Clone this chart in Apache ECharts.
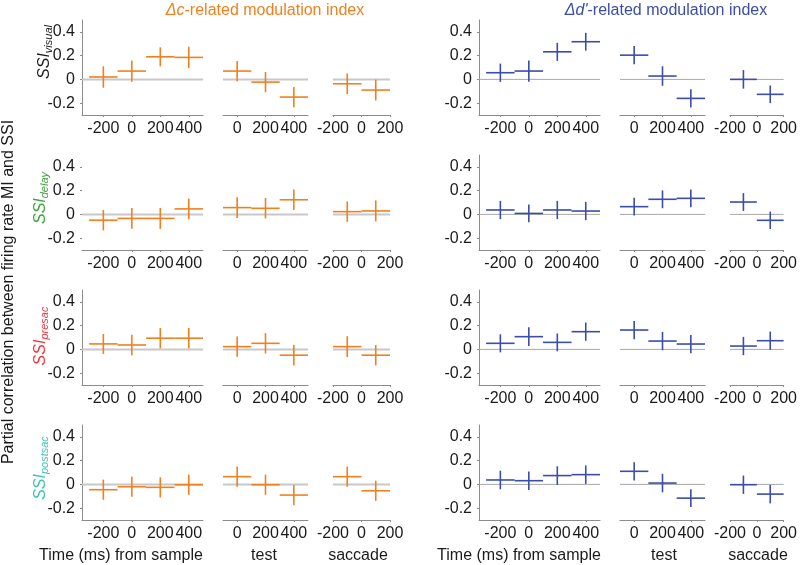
<!DOCTYPE html>
<html><head><meta charset="utf-8">
<script src="https://cdn.jsdelivr.net/npm/echarts@6/dist/echarts.min.js"></script>
<style>html,body{margin:0;padding:0;background:#fff}#c{width:800px;height:565px}</style>
</head><body><div id="c"></div>
<script>
// ---------- data ----------
const epochs = ['sample', 'test', 'saccade'];
const sampleRange = [-350, 500];
const testRange = [-100, 500];
const saccadeRange = [-200, 200];
const sampleTicks = [-200, 0, 200, 400];
const testTicks = [0, 200, 400];
const saccadeTicks = [-200, 0, 200];
const windowEpoch = ['sample', 'sample', 'sample', 'sample', 'test', 'test', 'test', 'saccade', 'saccade'];
const windowCenter = [-200, 0, 200, 400, 0, 200, 400, -100, 100];
const windowHalfWidth = 100;
const yTicks = [-0.2, 0, 0.2, 0.4];
const yRange = [-0.3, 0.5];
const rowSubscripts = ['visual', 'delay', 'presac', 'postsac'];
const columnTitlesItalic = ['\u0394c', '\u0394d\''];
const columnTitlesRest = ['-related modulation index', '-related modulation index'];
const yAxisTitle = 'Partial correlation between firing rate MI and SSI';
const xAxisTitles = ['Time (ms) from sample', 'test', 'saccade'];

// Δc-related (left column)
const dcVisual = [0.02, 0.07, 0.19, 0.185, 0.07, -0.023, -0.149, -0.037, -0.09];
const dcVisualErr = [0.09, 0.09, 0.08, 0.09, 0.085, 0.085, 0.085, 0.087, 0.088];
const dcDelay = [-0.049, -0.034, -0.034, 0.046, 0.057, 0.051, 0.123, 0.023, 0.029];
const dcDelayErr = [0.086, 0.088, 0.088, 0.087, 0.088, 0.086, 0.086, 0.086, 0.088];
const dcPresac = [0.046, 0.037, 0.094, 0.094, 0.023, 0.051, -0.049, 0.023, -0.049];
const dcPresacErr = [0.084, 0.086, 0.086, 0.086, 0.086, 0.086, 0.086, 0.088, 0.086];
const dcPostsac = [-0.045, -0.02, -0.025, -0.003, 0.065, -0.003, -0.09, 0.065, -0.054];
const dcPostsacErr = [0.085, 0.085, 0.085, 0.085, 0.085, 0.085, 0.085, 0.085, 0.085];
// Δd'-related (right column)
const ddVisual = [0.056, 0.07, 0.232, 0.317, 0.204, 0.028, -0.16, 0.0, -0.126];
const ddVisualErr = [0.077, 0.09, 0.076, 0.075, 0.077, 0.082, 0.077, 0.078, 0.074];
const ddDelay = [0.037, 0.008, 0.037, 0.028, 0.065, 0.127, 0.135, 0.104, -0.05];
const ddDelayErr = [0.077, 0.075, 0.077, 0.077, 0.075, 0.075, 0.075, 0.075, 0.073];
const ddPresac = [0.051, 0.107, 0.059, 0.149, 0.163, 0.07, 0.045, 0.028, 0.073];
const ddPresacErr = [0.076, 0.079, 0.075, 0.077, 0.077, 0.077, 0.077, 0.077, 0.077];
const ddPostsac = [0.037, 0.031, 0.074, 0.082, 0.11, 0.011, -0.116, -0.003, -0.082];
const ddPostsacErr = [0.078, 0.078, 0.078, 0.078, 0.077, 0.078, 0.075, 0.077, 0.078];

// ---------- layout / style ----------
const FONT = '"Liberation Sans", Arial, Helvetica, sans-serif';
const TXT = '#1a1a1a';
const colColors = ['#F0801E', '#3A4DA8'];
const zeroLine = [{color: '#c8c8c8', width: 2}, {color: '#a8a8a8', width: 1}];
const colOffset = [0, 397];
const epochLeft = {sample: 82, test: 223, saccade: 333};
const epochWidth = {sample: 121, test: 85, saccade: 57};
const rowTop = [20, 155, 290, 425];
const rowHeight = 95;
const rowLabelColors = ['#1a1a1a', '#3aa33a', '#f2323c', '#3cc2b4'];
const rowLabelPos = [[45, 52], [41, 198], [41, 336], [41, 468]];
const yAxisLineShown = [[true, true], [false, true], [true, true], [true, true]];

const epochRanges = {sample: sampleRange, test: testRange, saccade: saccadeRange};
const epochTicks = {sample: sampleTicks, test: testTicks, saccade: saccadeTicks};
const columns = [
  [[dcVisual, dcVisualErr], [dcDelay, dcDelayErr], [dcPresac, dcPresacErr], [dcPostsac, dcPostsacErr]],
  [[ddVisual, ddVisualErr], [ddDelay, ddDelayErr], [ddPresac, ddPresacErr], [ddPostsac, ddPostsacErr]]
];

const grid = [], xAxis = [], yAxis = [], series = [];
let gi = 0;
for (let c = 0; c < 2; c++) {
  for (let r = 0; r < 4; r++) {
    const [vals, errs] = columns[c][r];
    for (const ep of epochs) {
      grid.push({left: epochLeft[ep] + colOffset[c], top: rowTop[r], width: epochWidth[ep], height: rowHeight});
      xAxis.push({
        gridIndex: gi, type: 'value', min: epochRanges[ep][0], max: epochRanges[ep][1],
        axisLine: {show: true, onZero: false, lineStyle: {color: '#8c8c8c', width: 1}},
        axisTick: {show: true, length: 2, customValues: epochTicks[ep], lineStyle: {color: '#8c8c8c'}},
        axisLabel: {customValues: epochTicks[ep], fontSize: 16, fontFamily: FONT, color: TXT, margin: 6},
        splitLine: {show: false}
      });
      const isFirst = ep === 'sample';
      yAxis.push({
        gridIndex: gi, type: 'value', min: yRange[0], max: yRange[1], show: isFirst,
        axisLine: {show: isFirst && yAxisLineShown[r][c], onZero: false, lineStyle: {color: '#8c8c8c', width: 1}},
        axisTick: {show: true, length: 2, customValues: yTicks, lineStyle: {color: '#8c8c8c'}},
        axisLabel: {customValues: yTicks, fontSize: 16, fontFamily: FONT, color: TXT, margin: 7,
          formatter: v => String(Math.round(v * 10) / 10)},
        splitLine: {show: false}
      });
      const [xmin, xmax] = epochRanges[ep];
      series.push({
        type: 'line', xAxisIndex: gi, yAxisIndex: gi, silent: true, z: 1,
        showSymbol: false, symbol: 'none', animation: false,
        lineStyle: {color: zeroLine[c].color, width: zeroLine[c].width},
        data: [[xmin, 0], [xmax, 0]]
      });
      const pts = [];
      for (let k = 0; k < windowEpoch.length; k++) {
        if (windowEpoch[k] === ep) pts.push([windowCenter[k], vals[k], errs[k], windowHalfWidth]);
      }
      const color = colColors[c];
      series.push({
        type: 'custom', xAxisIndex: gi, yAxisIndex: gi, z: 2, animation: false,
        encode: {x: 0, y: 1},
        data: pts,
        renderItem: (params, api) => {
          const x = api.value(0), y = api.value(1), e = api.value(2), h = api.value(3);
          const L = api.coord([x - h, y]), R = api.coord([x + h, y]);
          const T = api.coord([x, y + e]), B = api.coord([x, y - e]);
          return {type: 'group', children: [
            {type: 'line', shape: {x1: L[0], y1: L[1], x2: R[0], y2: R[1]}, style: {stroke: color, lineWidth: 1.6}},
            {type: 'line', shape: {x1: T[0], y1: T[1], x2: B[0], y2: B[1]}, style: {stroke: color, lineWidth: 1.6}}
          ]};
        }
      });
      gi++;
    }
  }
}

// text measuring
const mctx = document.createElement('canvas').getContext('2d');
function tw(str, font) { mctx.font = font; return mctx.measureText(str).width; }

const graphic = [];
// column titles
const titleCenters = [[265, 11], [666, 11]];
for (let c = 0; c < 2; c++) {
  const fi = 'italic 16px ' + FONT, fn = '16px ' + FONT;
  const w1 = tw(columnTitlesItalic[c], fi), w2 = tw(columnTitlesRest[c], fn);
  const x0 = titleCenters[c][0] - (w1 + w2) / 2;
  graphic.push({type: 'text', x: x0, y: titleCenters[c][1], silent: true,
    style: {text: columnTitlesItalic[c], font: fi, fill: colColors[c], textAlign: 'left', textVerticalAlign: 'middle'}});
  graphic.push({type: 'text', x: x0 + w1, y: titleCenters[c][1], silent: true,
    style: {text: columnTitlesRest[c], font: fn, fill: colColors[c], textAlign: 'left', textVerticalAlign: 'middle'}});
}
// row labels
for (let r = 0; r < 4; r++) {
  const fb = 'italic 16px ' + FONT, fs = 'italic 11px ' + FONT;
  const w1 = tw('SSI', fb), w2 = tw(rowSubscripts[r], fs);
  const tot = w1 + w2;
  graphic.push({type: 'group', x: rowLabelPos[r][0], y: rowLabelPos[r][1], rotation: Math.PI / 2, silent: true, children: [
    {type: 'text', x: -tot / 2, y: 0, style: {text: 'SSI', font: fb, fill: rowLabelColors[r], textAlign: 'left', textVerticalAlign: 'middle'}},
    {type: 'text', x: -tot / 2 + w1, y: 4, style: {text: rowSubscripts[r], font: fs, fill: rowLabelColors[r], textAlign: 'left', textVerticalAlign: 'middle'}}
  ]});
}
// main y title
graphic.push({type: 'text', x: 9, y: 292, rotation: Math.PI / 2, silent: true,
  style: {text: yAxisTitle, font: '16px ' + FONT, fill: TXT, textAlign: 'center', textVerticalAlign: 'middle'}});
// bottom x titles
const xTitleX = [[121, 264, 358], [519, 664, 758]];
for (let c = 0; c < 2; c++) {
  for (let k = 0; k < 3; k++) {
    graphic.push({type: 'text', x: xTitleX[c][k], y: 556, silent: true,
      style: {text: xAxisTitles[k], font: '16px ' + FONT, fill: TXT, textAlign: 'center', textVerticalAlign: 'middle'}});
  }
}

const chart = echarts.init(document.getElementById('c'), null, {renderer: 'canvas'});
chart.setOption({animation: false, backgroundColor: '#fff', grid, xAxis, yAxis, series, graphic});
</script></body></html>
